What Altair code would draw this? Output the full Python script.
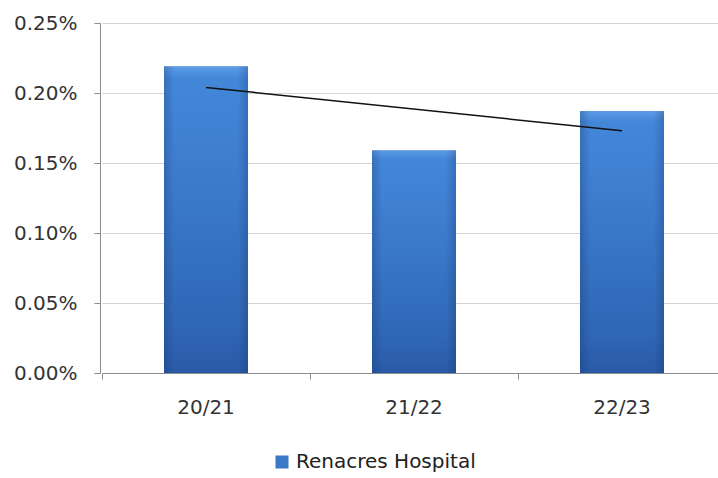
import altair as alt
import pandas as pd

categories = ["20/21", "21/22", "22/23"]
values = [0.00219, 0.00159, 0.00187]
series_name = "Renacres Hospital"
trend_categories = ["20/21", "22/23"]
trend_values = [0.00204, 0.00173]

bars_df = pd.DataFrame({"year": categories, "value": values, "series": [series_name] * len(categories)})
trend_df = pd.DataFrame({"year": trend_categories, "value": trend_values})

FONT = "DejaVu Sans"

x_scale = alt.Scale(paddingInner=0, paddingOuter=0, range=[2, 626])
x_enc = alt.X(
    "year:N",
    sort=categories,
    scale=x_scale,
    axis=alt.Axis(
        title=None, labelAngle=0, labelFontSize=20, labelFont=FONT, labelColor="#333333",
        domain=False, tickColor="#8c8c8c", tickSize=6, labelPadding=18,
        bandPosition=0, grid=False,
    ),
)
y_enc = alt.Y(
    "value:Q",
    scale=alt.Scale(domain=[0, 0.0025], nice=False),
    axis=alt.Axis(
        title=None, format=".2%", values=[0, 0.0005, 0.001, 0.0015, 0.002, 0.0025],
        labelFontSize=20, labelFont=FONT, labelColor="#333333",
        domainColor="#8c8c8c", tickColor="#8c8c8c", tickSize=6, labelPadding=17,
        gridColor={"condition": {"test": "datum.value === 0", "value": "#8c8c8c"}, "value": "#d4d4d4"},
        gridWidth=1,
    ),
)

legend_bars = alt.Chart(bars_df).mark_bar(size=84).encode(
    x=x_enc,
    y=y_enc,
    color=alt.Color(
        "series:N",
        scale=alt.Scale(range=["#3a78c8"]),
        legend=alt.Legend(
            title=None, orient="none", legendX=172, legendY=429, direction="horizontal",
            symbolType="square", symbolSize=169, symbolStrokeWidth=0,
            labelFontSize=20, labelFont=FONT, labelColor="#222222", padding=0,
            labelLimit=400,
        ),
    ),
)

grad = alt.LinearGradient(
    gradient="linear", x1=0, y1=0, x2=0, y2=1,
    stops=[
        alt.GradientStop(color="#5b9be6", offset=0),
        alt.GradientStop(color="#4387d8", offset=0.04),
        alt.GradientStop(color="#3b7acb", offset=0.4),
        alt.GradientStop(color="#2f66b6", offset=0.85),
        alt.GradientStop(color="#2a5aa8", offset=1),
    ],
)
fill_bars = alt.Chart(bars_df).mark_bar(size=84, color=grad).encode(x=x_enc, y=y_enc)

side_grad = alt.LinearGradient(
    gradient="linear", x1=0, y1=0, x2=1, y2=0,
    stops=[
        alt.GradientStop(color="rgba(20,40,90,0.25)", offset=0),
        alt.GradientStop(color="rgba(20,40,90,0.0)", offset=0.12),
        alt.GradientStop(color="rgba(20,40,90,0.0)", offset=0.88),
        alt.GradientStop(color="rgba(20,40,90,0.25)", offset=1),
    ],
)
side_bars = alt.Chart(bars_df).mark_bar(size=84, color=side_grad).encode(x=x_enc, y=y_enc)

trend = alt.Chart(trend_df).mark_line(color="#111111", strokeWidth=1.5).encode(
    x=alt.X("year:N", sort=categories),
    y=alt.Y("value:Q"),
)

chart = alt.layer(legend_bars, fill_bars, side_bars, trend).properties(
    width=615,
    height=350,
    autosize=alt.AutoSizeParams(type="none"),
    padding={"left": 100, "top": 23, "right": 3, "bottom": 105},
    background="white",
).configure_view(stroke=None)

chart.save("out.html", embed_options={"renderer": "svg", "actions": False})
